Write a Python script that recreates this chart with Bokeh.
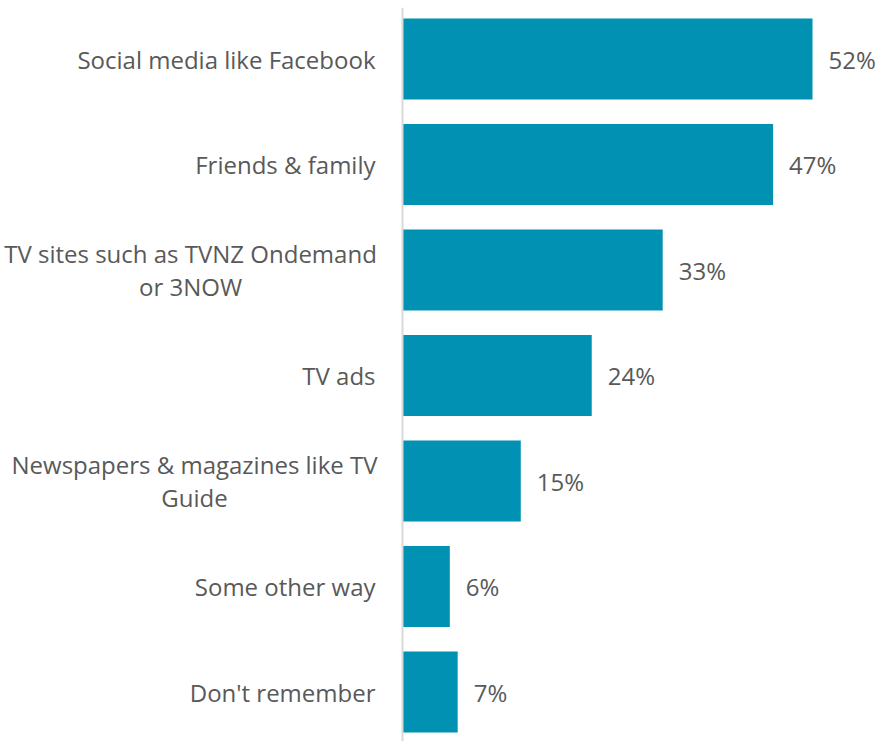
from bokeh.plotting import figure
from bokeh.models import Range1d, Span, ColumnDataSource
from bokeh.core.properties import value
from bokeh.embed import file_html
from bokeh.resources import INLINE

categories = [
    "Social media like Facebook",
    "Friends & family",
    "TV sites such as TVNZ Ondemand\nor 3NOW",
    "TV ads",
    "Newspapers & magazines like TV\nGuide",
    "Some other way",
    "Don't remember",
]
values = [52, 47, 33, 24, 15, 6, 7]
value_labels = [f"{v}%" for v in values]

W, H = 883, 741
TOP = 7
frame_h = H - TOP
axis_px = 402          # axis position inside the frame
px_per_unit = 7.885
band_px = 105.5
first_center_px = 51.5

n = len(categories)
ypos = [n - 1 - i for i in range(n)]
y_end = (n - 1) + first_center_px / band_px
y_start = y_end - frame_h / band_px

p = figure(width=W, height=H, output_backend="svg", toolbar_location=None,
           x_range=Range1d(-axis_px / px_per_unit, (W - axis_px) / px_per_unit),
           y_range=Range1d(y_start, y_end),
           min_border=0, min_border_left=0, min_border_right=0,
           min_border_top=TOP, min_border_bottom=0)
p.axis.visible = False
p.grid.visible = False
p.outline_line_color = None
p.background_fill_color = "white"
p.border_fill_color = "white"

src = ColumnDataSource(dict(cat=categories, y=ypos, val=values, lab=value_labels))
p.hbar(y="y", right="val", left=0, height=81 / band_px, source=src,
       fill_color="#0091b3", line_color=None)

p.add_layout(Span(location=0, dimension="height", line_color="#d9d9d9",
                  line_width=2))

font = value("Open Sans")
col = "#595959"
fs = "24px"
p.text(x="val", y="y", text="lab", source=src, x_offset=16,
       text_align="left", text_baseline="middle", text_font=font,
       text_font_size=fs, text_color=col)

single = [i for i, c in enumerate(categories) if "\n" not in c]
multi = [i for i, c in enumerate(categories) if "\n" in c]
s1 = ColumnDataSource(dict(cat=[categories[i] for i in single],
                           y=[ypos[i] for i in single], x=[0] * len(single)))
p.text(x="x", y="y", text="cat", source=s1, x_offset=-27,
       text_align="right", text_baseline="middle", text_font=font,
       text_font_size=fs, text_color=col)
multi_offsets = {2: -212, 4: -208}
s2 = ColumnDataSource(dict(cat=[categories[i] for i in multi],
                           y=[ypos[i] for i in multi], x=[0] * len(multi),
                           off=[multi_offsets[i] for i in multi]))
p.text(x="x", y="y", text="cat", source=s2, x_offset="off",
       text_align="center", text_baseline="middle", text_font=font,
       text_font_size=fs, text_color=col, text_line_height=1.0)

open("out.html", "w").write(file_html(p, INLINE))
